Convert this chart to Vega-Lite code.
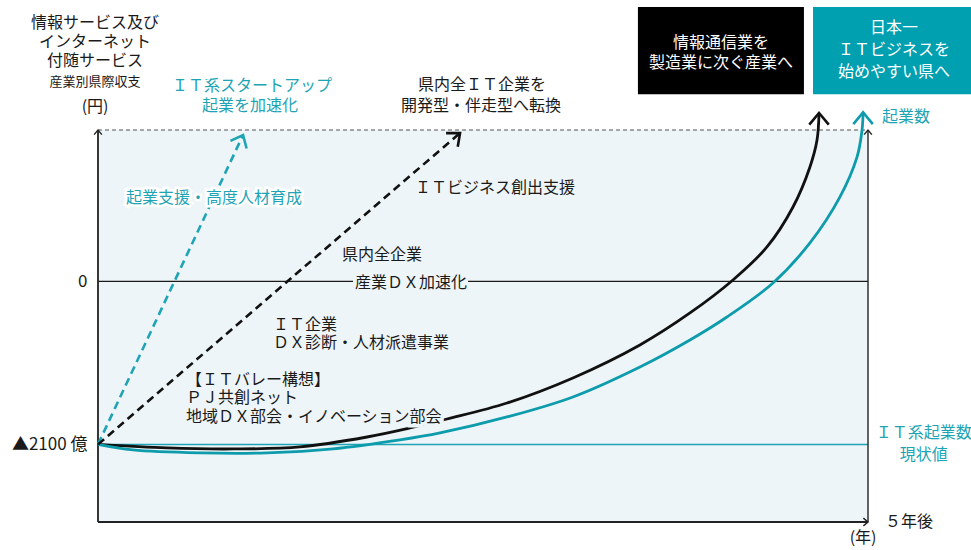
{
  "$schema": "https://vega.github.io/schema/vega-lite/v6.json",
  "width": 770,
  "height": 392,
  "padding": {"left": 98, "top": 130, "right": 103, "bottom": 28},
  "autosize": {"type": "none"},
  "background": "white",
  "config": {"view": {"stroke": null}, "font": "Noto Sans CJK JP"},
  "encoding": {
    "x": {"field": "x", "type": "quantitative", "scale": {"domain": [0, 5], "nice": false, "zero": false}, "axis": null},
    "y": {"field": "y", "type": "quantitative", "scale": {"domain": [-3100, 1950], "nice": false, "zero": false},
      "axis": {"values": [0, -2100], "labelExpr": "datum.value == 0 ? '0' : '▲2100 億'", "domain": false, "ticks": false, "grid": false, "title": null, "labelFontSize": 17, "labelColor": "#1a1a1a", "labelPadding": 11, "labelFont": "Noto Sans CJK JP"}}
  },
  "layer": [
    {"data": {"values": [{"x": 0, "x2": 5, "y": -3100, "y2": 1950}]}, "mark": {"type": "rect", "color": "#eef5f8"},
      "encoding": {"x2": {"field": "x2"}, "y2": {"field": "y2"}}},
    {"data": {"values": [{"x": 0, "x2": 5, "y": -2100}]}, "mark": {"type": "rule", "color": "#1ea4b4", "strokeWidth": 1.5},
      "encoding": {"x2": {"field": "x2"}}},
    {"data": {"values": [{"x": 0, "x2": 1.656, "y": 0}, {"x": 2.403, "x2": 5, "y": 0}]}, "mark": {"type": "rule", "color": "#1a1a1a", "strokeWidth": 1.2},
      "encoding": {"x2": {"field": "x2"}}},
    {"data": {"values": [{"x": 0, "x2": 5, "y": 1950}]}, "mark": {"type": "rule", "color": "#555555", "strokeWidth": 1, "strokeDash": [4, 3]},
      "encoding": {"x2": {"field": "x2"}}},
    {"data": {"values": [{"x": 0, "y": -3100, "y2": 1950}]}, "mark": {"type": "rule", "color": "#222222", "strokeWidth": 1.8},
      "encoding": {"y2": {"field": "y2"}}},
    {"data": {"values": [{"x": 5, "y": -3100, "y2": 1950}]}, "mark": {"type": "rule", "color": "#222222", "strokeWidth": 1.4},
      "encoding": {"y2": {"field": "y2"}}},
    {"data": {"values": [{"x": 0, "x2": 5, "y": -3100}]}, "mark": {"type": "rule", "color": "#222222", "strokeWidth": 1.8},
      "encoding": {"x2": {"field": "x2"}}},
    {"data": {"values": [{"x": 0, "y": 1950}, {"x": 5, "y": 1950}]}, "mark": {"type": "point", "shape": "M-1,1.2L0,0L1,1.2", "filled": false, "color": "#222222", "strokeWidth": 1.4, "size": 60, "opacity": 1}},
    {"data": {"values": [{"x": 5, "y": -3100}]}, "mark": {"type": "point", "shape": "M-1,1.2L0,0L1,1.2", "angle": 90, "filled": false, "color": "#222222", "strokeWidth": 1.4, "size": 60, "opacity": 1}},
    {"data": {"values": [
      {"x": 0, "y": -2100}, {"x": 0.448, "y": -2146}, {"x": 0.877, "y": -2159}, {"x": 1.312, "y": -2133}, {"x": 1.747, "y": -2005},
      {"x": 2.026, "y": -1889}, {"x": 2.266, "y": -1773}, {"x": 2.656, "y": -1567}, {"x": 3.084, "y": -1244}, {"x": 3.519, "y": -819},
      {"x": 3.844, "y": -407}, {"x": 4.123, "y": 18}, {"x": 4.344, "y": 443}, {"x": 4.513, "y": 958}, {"x": 4.623, "y": 1474},
      {"x": 4.669, "y": 1821}, {"x": 4.682, "y": 2169}]},
      "mark": {"type": "line", "color": "#111111", "strokeWidth": 2.8, "interpolate": "catmull-rom"}},
    {"data": {"values": [
      {"x": 0, "y": -2100}, {"x": 0.227, "y": -2172}, {"x": 0.662, "y": -2210}, {"x": 1.097, "y": -2210}, {"x": 1.526, "y": -2159},
      {"x": 1.961, "y": -2043}, {"x": 2.221, "y": -1953}, {"x": 2.656, "y": -1747}, {"x": 3.084, "y": -1489}, {"x": 3.519, "y": -1103},
      {"x": 3.844, "y": -755}, {"x": 4.084, "y": -459}, {"x": 4.383, "y": -21}, {"x": 4.623, "y": 495}, {"x": 4.818, "y": 1088},
      {"x": 4.929, "y": 1603}, {"x": 4.961, "y": 1945}, {"x": 4.968, "y": 2177}]},
      "mark": {"type": "line", "color": "#0e9cad", "strokeWidth": 2.8, "interpolate": "catmull-rom"}},
    {"data": {"values": [{"x": 0, "y": -2100}, {"x": 0.942, "y": 1886}]},
      "mark": {"type": "line", "color": "#1ea4b4", "strokeWidth": 2.6, "strokeDash": [8, 5]}},
    {"data": {"values": [{"x": 0, "y": -2100}, {"x": 2.351, "y": 1912}]},
      "mark": {"type": "line", "color": "#111111", "strokeWidth": 2.6, "strokeDash": [8, 5]}},
    {"data": {"values": [{"x": 4.682, "y": 2169}]}, "mark": {"type": "point", "shape": "M-1,1.2L0,0L1,1.2", "filled": false, "color": "#111111", "strokeWidth": 2.6, "size": 380, "opacity": 1}},
    {"data": {"values": [{"x": 4.968, "y": 2177}]}, "mark": {"type": "point", "shape": "M-1,1.2L0,0L1,1.2", "filled": false, "color": "#0e9cad", "strokeWidth": 2.6, "size": 380, "opacity": 1}},
    {"data": {"values": [{"x": 0.942, "y": 1886}]}, "mark": {"type": "point", "shape": "M-1,1.2L0,0L1,1.2", "angle": 25.1, "filled": false, "color": "#1ea4b4", "strokeWidth": 2.6, "size": 320, "opacity": 1}},
    {"data": {"values": [{"x": 2.351, "y": 1912}]}, "mark": {"type": "point", "shape": "M-1,1.2L0,0L1,1.2", "angle": 49.3, "filled": false, "color": "#111111", "strokeWidth": 2.6, "size": 320, "opacity": 1}},
    {"data": {"values": [{"x": 0.571, "y": -1747, "label": "地域ＤＸ部会・イノベーション部会"}]},
      "mark": {"type": "text", "align": "left", "baseline": "middle", "fontSize": 16, "stroke": "#eef5f8", "strokeWidth": 7, "color": "#eef5f8"},
      "encoding": {"text": {"field": "label"}}},
    {"data": {"values": [{"x": 0.753, "y": 1074, "label": "起業支援・高度人材育成"}]},
      "mark": {"type": "text", "align": "center", "baseline": "middle", "fontSize": 16, "stroke": "white", "strokeWidth": 5, "color": "white"},
      "encoding": {"text": {"field": "label"}}},
    {"data": {"values": [{"x": 0.753, "y": 1074, "label": "起業支援・高度人材育成"}]},
      "mark": {"type": "text", "align": "center", "baseline": "middle", "fontSize": 16, "color": "#1ea4b4"},
      "encoding": {"text": {"field": "label"}}},
    {"data": {"values": [
      {"x": -0.019, "y": 3329, "label": "情報サービス及び"},
      {"x": -0.019, "y": 3084, "label": "インターネット"},
      {"x": -0.019, "y": 2839, "label": "付随サービス"},
      {"x": -0.019, "y": 2247, "label": "(円)"},
      {"x": 2.494, "y": 2530, "label": "県内全ＩＴ企業を"},
      {"x": 2.487, "y": 2260, "label": "開発型・伴走型へ転換"},
      {"x": 2.032, "y": -21, "label": "産業ＤＸ加速化"},
      {"x": 4.968, "y": -3306, "label": "(年)"}]},
      "mark": {"type": "text", "align": "center", "baseline": "middle", "fontSize": 16, "color": "#1a1a1a"},
      "encoding": {"text": {"field": "label"}}},
    {"data": {"values": [{"x": -0.019, "y": 2569, "label": "産業別県際収支"}]},
      "mark": {"type": "text", "align": "center", "baseline": "middle", "fontSize": 13, "color": "#1a1a1a"},
      "encoding": {"text": {"field": "label"}}},
    {"data": {"values": [
      {"x": 2.058, "y": 1203, "label": "ＩＴビジネス創出支援"},
      {"x": 1.584, "y": 340, "label": "県内全企業"},
      {"x": 1.136, "y": -562, "label": "ＩＴ企業"},
      {"x": 1.136, "y": -794, "label": "ＤＸ診断・人材派遣事業"},
      {"x": 0.571, "y": -1270, "label": "【ＩＴバレー構想】"},
      {"x": 0.571, "y": -1502, "label": "ＰＪ共創ネット"},
      {"x": 0.571, "y": -1747, "label": "地域ＤＸ部会・イノベーション部会"},
      {"x": 5.11, "y": -3100, "label": "５年後"}]},
      "mark": {"type": "text", "align": "left", "baseline": "middle", "fontSize": 16, "color": "#1a1a1a"},
      "encoding": {"text": {"field": "label"}}},
    {"data": {"values": [
      {"x": 1.0, "y": 2517, "label": "ＩＴ系スタートアップ"},
      {"x": 0.987, "y": 2260, "label": "起業を加速化"},
      {"x": 5.362, "y": -1953, "label": "ＩＴ系起業数"},
      {"x": 5.362, "y": -2237, "label": "現状値"}]},
      "mark": {"type": "text", "align": "center", "baseline": "middle", "fontSize": 16, "color": "#1ea4b4"},
      "encoding": {"text": {"field": "label"}}},
    {"data": {"values": [{"x": 5.091, "y": 2117, "label": "起業数"}]},
      "mark": {"type": "text", "align": "left", "baseline": "middle", "fontSize": 16, "color": "#1ea4b4"},
      "encoding": {"text": {"field": "label"}}},
    {"data": {"values": [{"x": 3.506, "x2": 4.584, "y": 2410, "y2": 3535}]}, "mark": {"type": "rect", "color": "#000000"},
      "encoding": {"x2": {"field": "x2"}, "y2": {"field": "y2"}}},
    {"data": {"values": [{"x": 4.643, "x2": 5.669, "y": 2410, "y2": 3535}]}, "mark": {"type": "rect", "color": "#00a0b1"},
      "encoding": {"x2": {"field": "x2"}, "y2": {"field": "y2"}}},
    {"data": {"values": [
      {"x": 4.045, "y": 3072, "label": "情報通信業を"},
      {"x": 4.045, "y": 2814, "label": "製造業に次ぐ産業へ"},
      {"x": 5.169, "y": 3265, "label": "日本一"},
      {"x": 5.169, "y": 2981, "label": "ＩＴビジネスを"},
      {"x": 5.169, "y": 2698, "label": "始めやすい県へ"}]},
      "mark": {"type": "text", "align": "center", "baseline": "middle", "fontSize": 16, "color": "#ffffff"},
      "encoding": {"text": {"field": "label"}}}
  ]
}
